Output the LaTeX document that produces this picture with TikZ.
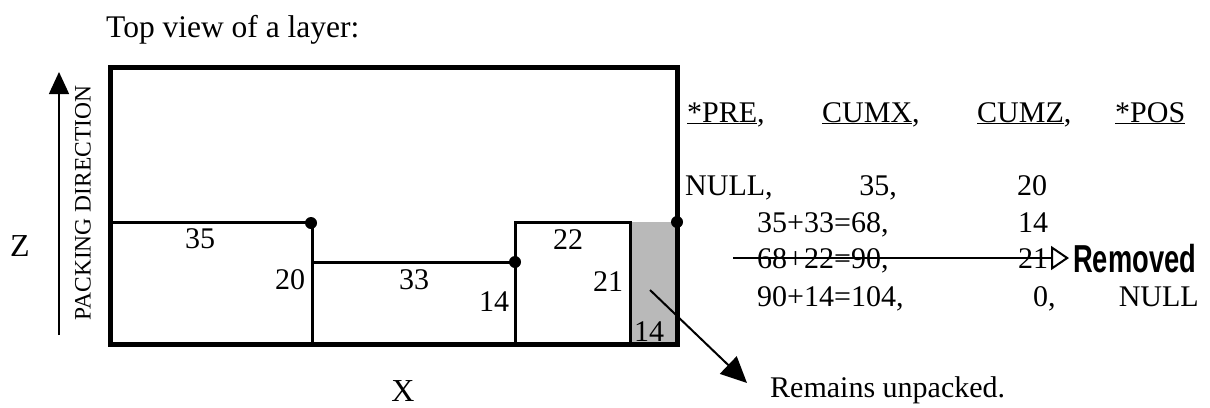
\documentclass[tikz,border=0pt]{standalone}
\usepackage{fontspec}
\setmainfont{Liberation Serif}
\newfontfamily\remfont{Liberation Sans}
\usetikzlibrary{arrows.meta}
\begin{document}
\begin{tikzpicture}[x=1pt,y=-1pt,
  lbl/.style={font=\fontsize{30}{34}\selectfont, inner sep=0pt},
  thin line/.style={line width=3pt},
  frame/.style={line width=5pt},
  dotmark/.style={circle, fill=black, inner sep=0pt, minimum size=12pt}]
\useasboundingbox (0,0) rectangle (1210,407);
% grey box
\fill[gray!55] (630,222) rectangle (676,344);
% internal lines
\draw[thin line] (110,222) -- (312,222) -- (312,344);
\draw[thin line] (312,262) -- (515,262);
\draw[thin line] (515,344) -- (515,222) -- (630,222) -- (630,344);
% frame
\draw[frame] (110,67) rectangle (677,344);
% dots
\node[dotmark] (d1) at (311,223) {};
\node[dotmark] (d2) at (515,262) {};
\node[dotmark] (d3) at (677,222) {};
% labels inside
\node[lbl] (l35) at (200,239) {35};
\node[lbl] (l20) at (290,280) {20};
\node[lbl] (l33) at (414,280) {33};
\node[lbl] (l14a) at (494,302) {14};
\node[lbl] (l22) at (568,240) {22};
\node[lbl] (l21) at (608,282) {21};
\node[lbl] (l14b) at (649,332) {14};
% title and axes
\node[lbl, anchor=base west, font=\fontsize{31.5}{34}\selectfont] (title) at (106,37) {Top view of a layer:};
\node[lbl, font=\fontsize{32}{34}\selectfont] (zlab) at (20,246) {Z};
\node[lbl, font=\fontsize{32}{34}\selectfont] (xlab) at (403,391) {X};
\coordinate (pa) at (59,335);
\coordinate (pb) at (59,72);
\draw[line width=1.5pt, -{Triangle[length=22pt,width=20pt]}] (pa) -- (pb);
\node[lbl, rotate=90, font=\fontsize{23.5}{26}\selectfont] (pd) at (83,203) {PACKING DIRECTION};
% table
\node[lbl, anchor=base west] (hpre) at (687,122) {\underline{*PRE},};
\node[lbl, anchor=base west] (hcumx) at (822,122) {\underline{CUMX},};
\node[lbl, anchor=base west] (hcumz) at (977,122) {\underline{CUMZ},};
\node[lbl, anchor=base west] (hpos) at (1115,122) {\underline{*POS}};
\node[lbl, anchor=base west] (r1a) at (685,195) {NULL,};
\node[lbl, anchor=base east] (r1b) at (897,195) {35,};
\node[lbl, anchor=base west] (r1c) at (1017,195) {20};
\node[lbl, anchor=base west] (r2a) at (757,232) {35+33=68,};
\node[lbl, anchor=base west] (r2c) at (1018,232) {14};
\node[lbl, anchor=base west] (r3a) at (757,268) {68+22=90,};
\node[lbl, anchor=base west] (r3c) at (1018,268) {21};
\node[lbl, anchor=base west] (r4a) at (757,306) {90+14=104,};
\node[lbl, anchor=base west] (r4c) at (1033,306) {0,};
\node[lbl, anchor=base east] (r4d) at (1199,306) {NULL};
\node[inner sep=0pt, anchor=base west, font=\remfont\bfseries\fontsize{39}{42}\selectfont] (rem) at (1073,272) {\scalebox{0.7}[1]{Removed}};
\coordinate (st) at (733,258);
\coordinate (sten) at (1069,258);
\draw[line width=2pt, -{Triangle[open,length=18pt,width=24pt,line width=2pt]}] (st) -- (sten);
% remains unpacked
\coordinate (ga) at (650,290);
\node[lbl, anchor=base west] (remu) at (770,397) {Remains unpacked.};
\coordinate (gb) at (747,383);
\draw[line width=2pt, -{Triangle[length=26pt,width=24pt]}] (ga) -- (gb);
\end{tikzpicture}
\end{document}
